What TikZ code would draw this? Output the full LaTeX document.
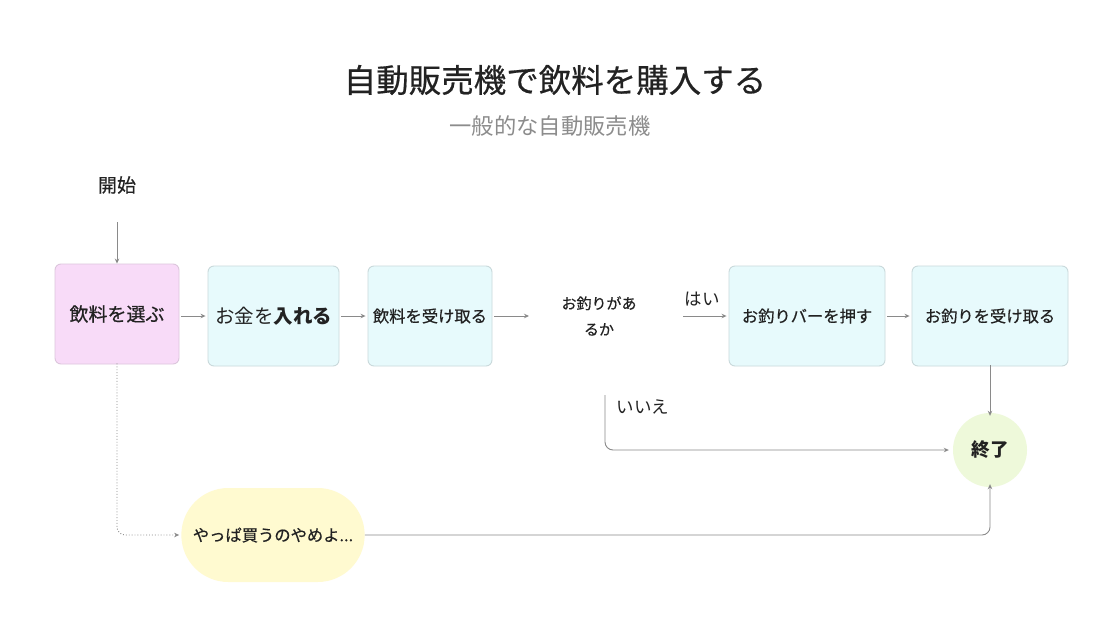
\documentclass[tikz,border=0pt]{standalone}
\usepackage{fontspec}
\setmainfont{Noto Sans CJK JP}
\newfontfamily\med{Noto Sans CJK JP}[FakeBold=0.5]
\usetikzlibrary{arrows.meta,shapes.misc}
\definecolor{pinkfill}{HTML}{F8DBF8}
\definecolor{pinkline}{HTML}{DCC6DC}
\definecolor{cyanfill}{HTML}{E7FAFC}
\definecolor{cyanline}{HTML}{C9D9DB}
\definecolor{greenfill}{HTML}{EEF9DA}
\definecolor{yellowfill}{HTML}{FFFAD0}
\definecolor{conn}{HTML}{8A8A8A}
\definecolor{txt}{HTML}{222222}
\definecolor{subtxt}{HTML}{8C8C8C}
\tikzset{
  stepbox/.style={rectangle, rounded corners=6pt, draw=cyanline, line width=0.9pt, fill=cyanfill, minimum height=100pt, text=txt, inner sep=2pt},
  arr/.style={draw=conn, line width=0.9pt, -{Stealth[length=5pt,width=4.5pt]}},
  lbl/.style={text=txt, inner sep=0pt},
}
\begin{document}
\begin{tikzpicture}[x=1pt,y=-1pt]
\useasboundingbox (0,0) rectangle (1116,632);
\fill[white] (0,0) rectangle (1116,632);
% titles
\node[lbl, font=\med\fontsize{32.5}{38}\selectfont] (title) at (555,80) {自動販売機で飲料を購入する};
\node[lbl, text=subtxt, font=\fontsize{22.3}{26}\selectfont] (sub) at (550,126) {一般的な自動販売機};
% start
\node[lbl, font=\med\fontsize{19}{22}\selectfont] (start) at (117,185) {開始};
\coordinate (startend) at (117,222);
% boxes
\node[stepbox, draw=pinkline, fill=pinkfill, minimum width=124pt, font=\med\fontsize{19}{22}\selectfont] (b1) at (117,314) {飲料を選ぶ};
\node[stepbox, minimum width=131pt, font=\fontsize{19.5}{23}\selectfont] (b2) at (273.5,316) {お金を\textbf{入れる}};
\node[stepbox, minimum width=124pt, font=\med\fontsize{16.3}{19}\selectfont] (b3) at (430,316) {飲料を受け取る};
\node[lbl, align=center, font=\med\fontsize{15}{26}\selectfont] (q) at (599,316) {お釣りがあ\\るか};
\coordinate (qin) at (529,316);
\coordinate (qout) at (683,316);
\coordinate (qdown) at (605,395);
\node[stepbox, minimum width=156pt, font=\med\fontsize{16.3}{19}\selectfont] (b4) at (807,316) {お釣りバーを押す};
\node[stepbox, minimum width=156pt, font=\med\fontsize{16.3}{19}\selectfont] (b5) at (990,316) {お釣りを受け取る};
\node[circle, fill=greenfill, minimum size=74pt, text=txt, font=\fontsize{18.5}{22}\selectfont\bfseries, inner sep=0pt] (end) at (990,450) {終了};
\node[rounded rectangle, fill=yellowfill, minimum width=190pt, minimum height=94pt, text=txt, font=\med\fontsize{16.3}{19}\selectfont] (stop) at (273,535) {やっぱ買うのやめよ...};
% labels
\node[lbl, font=\fontsize{17.5}{20}\selectfont] (yes) at (702,299) {はい};
\node[lbl, font=\fontsize{17.5}{20}\selectfont] (no) at (643,407) {いいえ};
% connectors
\draw[arr] (startend) -- (b1.north);
\draw[arr] ([xshift=2pt]b1.east |- b2.west) -- ([xshift=-2pt]b2.west);
\draw[arr] ([xshift=2pt]b2.east) -- ([xshift=-2pt]b3.west);
\draw[arr] ([xshift=2pt]b3.east) -- (qin);
\draw[arr] (qout) -- ([xshift=-2pt]b4.west);
\draw[arr] ([xshift=2pt]b4.east) -- ([xshift=-2pt]b5.west);
\draw[arr] ([yshift=1pt]b5.south) -- ([yshift=-3pt]end.north);
\draw[arr, rounded corners=8pt] (qdown) |- ([xshift=-4pt]end.west);
\draw[arr, dotted, rounded corners=8pt] ([yshift=1pt]b1.south) |- ([xshift=-2pt]stop.west);
\draw[arr, rounded corners=8pt] (stop.east) -| ([yshift=3pt]end.south);
\end{tikzpicture}
\end{document}
